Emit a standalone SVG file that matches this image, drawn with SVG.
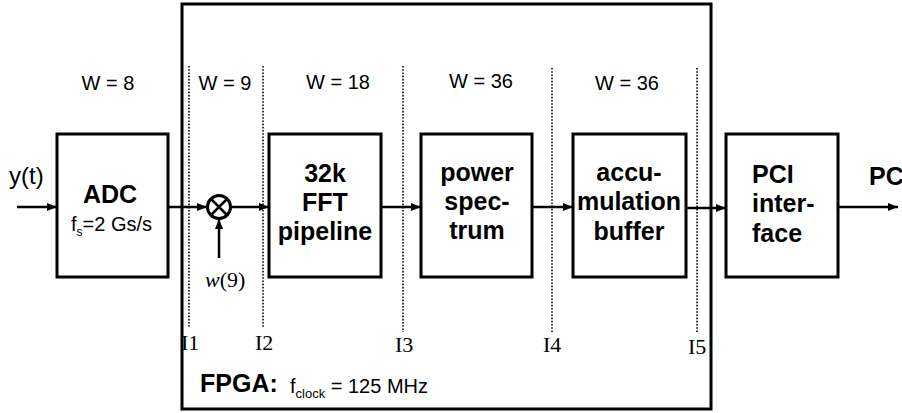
<svg xmlns="http://www.w3.org/2000/svg" width="902" height="413" viewBox="0 0 902 413">
<style>
.box{fill:none;stroke:#000;stroke-width:3}
.dot{fill:none;stroke:#222;stroke-width:1.8;stroke-dasharray:1.6 1.6}
.ln{fill:none;stroke:#000;stroke-width:2.5}
.w{font-family:"Liberation Sans",Arial,sans-serif;font-size:20px;fill:#000;text-anchor:middle}
.b{font-family:"Liberation Sans",Arial,sans-serif;font-size:25px;font-weight:bold;fill:#000;text-anchor:middle}
.r{font-family:"Liberation Sans",Arial,sans-serif;fill:#000}
.s{font-family:"Liberation Serif","Times New Roman",serif;font-size:22px;fill:#000}
</style>
<defs>
<marker id="ah" markerWidth="10" markerHeight="8" refX="10" refY="4" orient="auto" markerUnits="userSpaceOnUse">
<path d="M0,0 L10,4 L0,8 Z" fill="#000"/>
</marker>
</defs>
<rect id="fpga" x="182" y="4" width="529" height="405" class="box"/>
<g id="interfaces">
<line x1="189" y1="66" x2="189" y2="327" class="dot"/>
<line x1="263" y1="66" x2="263" y2="327" class="dot"/>
<line x1="403" y1="66" x2="403" y2="332" class="dot"/>
<line x1="552" y1="68" x2="552" y2="333" class="dot"/>
<line x1="697" y1="68" x2="697" y2="332" class="dot"/>
<text x="181" y="350" class="s">I1</text>
<text x="255" y="350" class="s">I2</text>
<text x="395" y="352" class="s">I3</text>
<text x="543" y="352" class="s">I4</text>
<text x="688" y="354" class="s">I5</text>
</g>
<g id="widths">
<text x="108" y="90" class="w">W = 8</text>
<text x="225" y="90" class="w">W = 9</text>
<text x="338" y="89" class="w">W = 18</text>
<text x="481" y="88" class="w">W = 36</text>
<text x="627" y="90" class="w">W = 36</text>
</g>
<g id="adc">
<rect x="57" y="134" width="111" height="143" class="box"/>
<text x="110" y="203" class="b">ADC</text>
<text x="71" y="231" class="r" font-size="20">f<tspan font-size="12" dy="5">s</tspan><tspan dy="-5">=2 Gs/s</tspan></text>
</g>
<g id="mixer">
<circle cx="219" cy="207" r="11.5" fill="none" stroke="#000" stroke-width="3"/>
<path d="M211,199 L227,215 M227,199 L211,215" class="ln"/>
<text x="205" y="287" class="s" font-size="21"><tspan font-style="italic">w</tspan>(9)</text>
</g>
<g id="fft">
<rect x="269" y="134" width="112" height="143" class="box"/>
<text x="325" y="182" class="b">32k</text>
<text x="325" y="211" class="b">FFT</text>
<text x="325" y="240" class="b">pipeline</text>
</g>
<g id="power">
<rect x="421" y="134" width="111" height="143" class="box"/>
<text x="477" y="181" class="b">power</text>
<text x="477" y="210" class="b">spec-</text>
<text x="477" y="239" class="b">trum</text>
</g>
<g id="accum">
<rect x="573" y="134" width="113" height="143" class="box"/>
<text x="629" y="181" class="b">accu-</text>
<text x="629" y="210" class="b">mulation</text>
<text x="629" y="240" class="b">buffer</text>
</g>
<g id="pci">
<rect x="726" y="134" width="112" height="143" class="box"/>
<text x="752" y="183" class="b" style="text-anchor:start">PCI</text>
<text x="752" y="212" class="b" style="text-anchor:start">inter-</text>
<text x="752" y="242" class="b" style="text-anchor:start">face</text>
</g>
<g id="labels">
<text x="9" y="184" class="r" font-size="24">y(t)</text>
<text x="869" y="185" class="b" style="text-anchor:start">PC</text>
<text x="200" y="392" class="b" style="text-anchor:start">FPGA:</text>
<text x="290" y="393" class="r" font-size="20">f<tspan font-size="13" dy="5">clock</tspan><tspan dy="-5"> = 125 MHz</tspan></text>
</g>
<g id="connectors">
<line x1="17" y1="207" x2="57" y2="207" class="ln" marker-end="url(#ah)"/>
<line x1="168" y1="207" x2="207" y2="207" class="ln" marker-end="url(#ah)"/>
<line x1="219" y1="258" x2="219" y2="219" class="ln" marker-end="url(#ah)"/>
<line x1="231" y1="207" x2="269" y2="207" class="ln" marker-end="url(#ah)"/>
<line x1="381" y1="207" x2="421" y2="207" class="ln" marker-end="url(#ah)"/>
<line x1="532" y1="207" x2="573" y2="207" class="ln" marker-end="url(#ah)"/>
<line x1="686" y1="208" x2="726" y2="208" class="ln" marker-end="url(#ah)"/>
<line x1="838" y1="207" x2="898" y2="207" class="ln" marker-end="url(#ah)"/>
</g>
</svg>
